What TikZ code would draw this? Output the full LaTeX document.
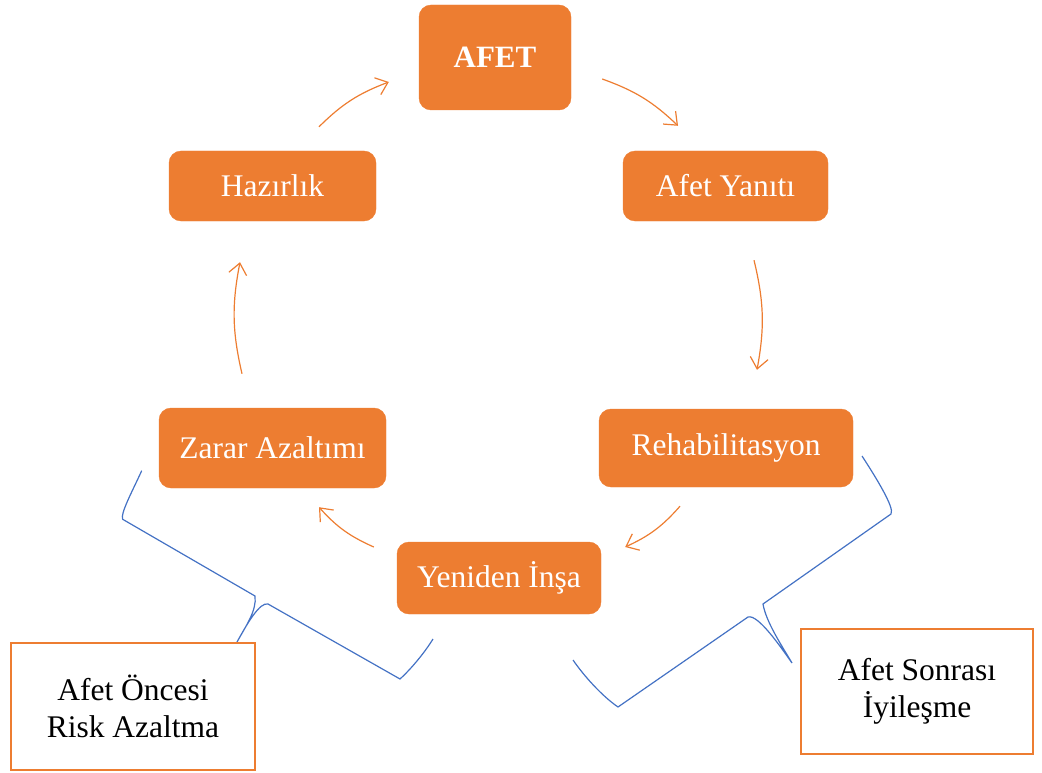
\documentclass[tikz,border=0pt]{standalone}
\usepackage{fontspec}
\setmainfont{Liberation Serif}
\usetikzlibrary{arrows.meta}
\definecolor{turuncu}{HTML}{ED7D31}
\definecolor{mavi}{HTML}{4472C4}
\begin{document}
\begin{tikzpicture}[x=1pt,y=-1pt,>={Straight Barb[length=11pt,width=18pt]},
		evre/.style={fill=turuncu,draw=turuncu,rounded corners=12pt,text=white,
			inner sep=0pt,font=\fontsize{31.5}{37}\selectfont},
		etiket/.style={draw=turuncu,line width=2.5pt,fill=white,align=center,
			inner sep=0pt,font=\fontsize{31.5}{37}\selectfont},
		ok/.style={->,turuncu,line width=1.2pt,bend left=12},
		parantez/.style={mavi,line width=1.2pt}]
		\useasboundingbox (0,0) rectangle (1042,773);
		\node[evre,minimum width=152,minimum height=105,font=\fontsize{31}{36}\selectfont\bfseries] (afet) at (495,57.5) {AFET};
		\node[evre,minimum width=207,minimum height=70] (hazirlik) at (272.5,186) {Hazırlık};
		\node[evre,minimum width=205,minimum height=70] (yanit) at (725.5,186) {Afet Yanıtı};
		\node[evre,minimum width=254,minimum height=78] (rehab) at (726,448) {Rehabilitasyon};
		\node[evre,minimum width=227,minimum height=80] (zarar) at (272.5,448) {Zarar Azaltımı};
		\node[evre,minimum width=204,minimum height=72] (insa) at (499,578) {Yeniden İnşa};
		\draw[parantez] (141.7,470.7) .. controls (132,492) and (120,514) .. (122.7,519.3)
			-- (255,596) .. controls (257,610) and (246,626) .. (237,642)
			.. controls (248,622) and (260,602) .. (268,604)
			-- (400,679) .. controls (412,668) and (425,652) .. (433,639);
		\draw[parantez] (862,456) .. controls (875,476) and (895,508) .. (891,514)
			-- (763,604) .. controls (766,622) and (782,646) .. (792,663)
			.. controls (780,646) and (758,614) .. (748,617)
			-- (618,707) .. controls (602,696) and (584,676) .. (573,660);
		\node[etiket,minimum width=244,minimum height=127] (oncesi) at (133,706.5) {Afet Öncesi\\Risk Azaltma};
		\node[etiket,minimum width=232,minimum height=125] (sonrasi) at (917,691.5) {Afet Sonrası\\İyileşme};
		\draw[ok] ([shift={(46.5,-24)}]hazirlik.north) to ([shift={(-30,24.5)}]afet.west);
		\draw[ok] ([shift={(31,21.5)}]afet.east) to ([shift={(-47.5,-25)}]yanit.north);
		\draw[ok] ([shift={(28.5,39)}]yanit.south) to ([shift={(31,-39)}]rehab.north);
		\draw[ok] ([shift={(-46,19)}]rehab.south) to ([shift={(24,-31)}]insa.east);
		\draw[ok] ([shift={(-23,-31)}]insa.west) to ([shift={(46.5,19)}]zarar.south);
		\draw[ok] ([shift={(-30.5,-34)}]zarar.north) to ([shift={(-32.5,41)}]hazirlik.south);
	\end{tikzpicture}
\end{document}
